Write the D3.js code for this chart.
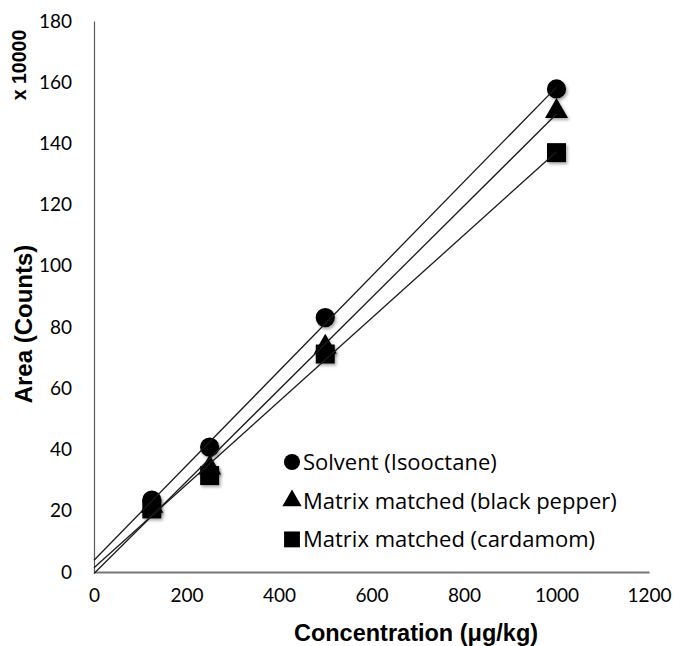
<!DOCTYPE html>
<html>
<head>
<meta charset="utf-8">
<script src="https://cdnjs.cloudflare.com/ajax/libs/d3/7.8.5/d3.min.js"></script>
<style>
  body { margin: 0; background: #fff; }
  svg { display: block; }
  .tick-label { font-family: Lato, "Open Sans", sans-serif; font-size: 19px; fill: #000; }
  .legend-text { font-family: "Open Sans", sans-serif; font-size: 22px; fill: #000; }
  .title { font-family: "Liberation Sans", Arial, sans-serif; font-weight: bold; fill: #000; }
</style>
</head>
<body>
<svg id="chart"></svg>
<script>
// concentration levels (ug/kg)
var conc = [125, 250, 500, 1000];
// peak area, x 10000
var solvent = [23.5, 40.8, 83.1, 157.8];
var pepper = [21.5, 34, 73.5, 150.5];
var cardamom = [20.6, 31.5, 71.2, 137];

var seriesNames = ["Solvent (Isooctane)", "Matrix matched (black pepper)", "Matrix matched (cardamom)"];
var xTicks = [0, 200, 400, 600, 800, 1000, 1200];
var yTicks = [0, 20, 40, 60, 80, 100, 120, 140, 160, 180];

var W = 673, H = 646;
var plotL = 94, plotR = 649, plotT = 21, plotB = 572;

var svg = d3.select("#chart").attr("width", W).attr("height", H);

// soft shadow like the excel markers
var defs = svg.append("defs");
defs.append("filter").attr("id", "shadow")
  .attr("x", "-50%").attr("y", "-50%").attr("width", "200%").attr("height", "200%")
  .append("feDropShadow")
  .attr("dx", 1.5).attr("dy", 2).attr("stdDeviation", 1.5)
  .attr("flood-color", "#000").attr("flood-opacity", 0.35);

var x = d3.scaleLinear().domain([0, 1200]).range([plotL, plotR]);
var y = d3.scaleLinear().domain([0, 180]).range([plotB, plotT]);

// axes
var xAxis = d3.axisBottom(x).tickValues(xTicks).tickSize(0).tickPadding(17).tickFormat(d3.format("d"));
var yAxis = d3.axisLeft(y).tickValues(yTicks).tickSize(0).tickPadding(22).tickFormat(d3.format("d"));

var gx = svg.append("g").attr("transform", "translate(0," + plotB + ")").call(xAxis);
gx.select(".domain").attr("stroke", "#767676").attr("stroke-width", 2.2);
gx.selectAll("text").attr("class", "tick-label").attr("font-family", null).attr("font-size", null).attr("fill", null);

var gy = svg.append("g").attr("transform", "translate(" + plotL + ",0)").call(yAxis);
gy.select(".domain").attr("stroke", "#595959").attr("stroke-width", 1.2);
gy.selectAll("text").attr("class", "tick-label").attr("font-family", null).attr("font-size", null).attr("fill", null);

var series = [
  { name: seriesNames[0], vals: solvent, shape: d3.symbolCircle, size: 290 },
  { name: seriesNames[1], vals: pepper, shape: d3.symbolTriangle, size: 230 },
  { name: seriesNames[2], vals: cardamom, shape: d3.symbolSquare, size: 360 }
];

// least squares trendline
function fit(xs, ys) {
  var mx = d3.mean(xs), my = d3.mean(ys);
  var sxy = d3.sum(xs, function (d, i) { return (d - mx) * (ys[i] - my); });
  var sxx = d3.sum(xs, function (d) { return (d - mx) * (d - mx); });
  var b = sxy / sxx;
  return { slope: b, icpt: my - b * mx };
}

// markers
series.forEach(function (s) {
  svg.append("g").selectAll("path")
    .data(conc)
    .enter().append("path")
    .attr("d", d3.symbol().type(s.shape).size(s.size))
    .attr("transform", function (d, i) {
      return "translate(" + x(d) + "," + y(s.vals[i]) + ")";
    })
    .attr("fill", "#000")
    .attr("filter", "url(#shadow)");
});

// trendlines on top
series.forEach(function (s) {
  var f = fit(conc, s.vals);
  svg.append("line")
    .attr("x1", x(0)).attr("y1", y(f.icpt))
    .attr("x2", x(1000)).attr("y2", y(f.icpt + f.slope * 1000))
    .attr("stroke", "#1a1a1a").attr("stroke-width", 1.3);
});

// legend
var legend = svg.append("g").attr("transform", "translate(292,462)");
var rows = legend.selectAll("g").data(series).enter().append("g")
  .attr("transform", function (d, i) { return "translate(0," + (i * 38.7) + ")"; });
rows.append("path")
  .attr("d", function (d) { return d3.symbol().type(d.shape).size(d.size * 0.7)(); })
  .attr("fill", "#000");
rows.append("text")
  .attr("class", "legend-text")
  .attr("x", 11).attr("dy", "0.36em")
  .text(function (d) { return d.name; });

// axis titles
svg.append("text").attr("class", "title")
  .attr("x", 416).attr("y", 641)
  .attr("text-anchor", "middle").attr("font-size", 23.5)
  .text("Concentration (\u03bcg/kg)");

svg.append("text").attr("class", "title")
  .attr("transform", "translate(32,324)rotate(-90)")
  .attr("text-anchor", "middle").attr("font-size", 24)
  .text("Area (Counts)");

svg.append("text").attr("class", "title")
  .attr("transform", "translate(26,65)rotate(-90)")
  .attr("text-anchor", "middle").attr("font-size", 19.5)
  .text("x 10000");
</script>
</body>
</html>
